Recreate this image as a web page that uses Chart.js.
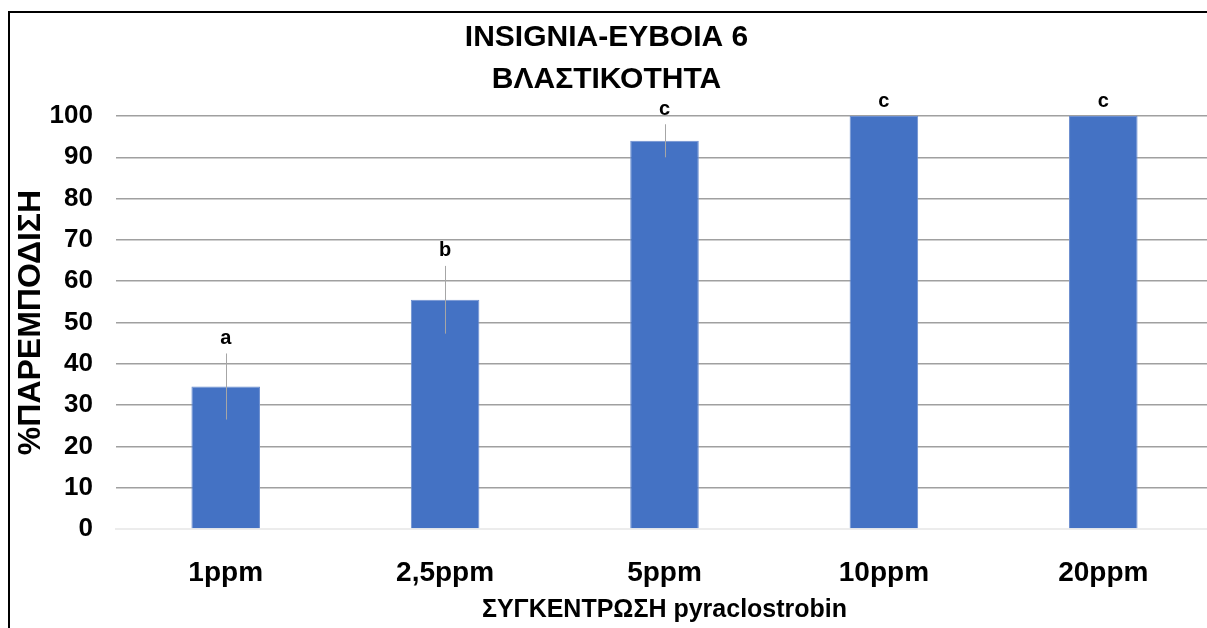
<!DOCTYPE html>
<html>
<head>
<meta charset="utf-8">
<script src="https://cdn.jsdelivr.net/npm/chart.js@4"></script>
<style>
  html, body { margin: 0; padding: 0; background: #fff; overflow: hidden; }
</style>
</head>
<body>
<canvas id="chart" width="1230" height="628"></canvas>
<script>
const labels = ['1ppm', '2,5ppm', '5ppm', '10ppm', '20ppm'];
const values = [34.5, 55.5, 94, 100, 100];
const errors = [8, 8.2, 4, 0, 0];
const letters = ['a', 'b', 'c', 'c', 'c'];
const yTicks = [0, 10, 20, 30, 40, 50, 60, 70, 80, 90, 100];

const font = "'Liberation Sans', Arial, sans-serif";

// white background + the thin frame around the chart
const frame = {
    id: 'frame',
    beforeDraw(chart) {
        const c = chart.ctx;
        c.save();
        c.fillStyle = '#fff';
        c.fillRect(0, 0, chart.width, chart.height);
        c.strokeStyle = '#000';
        c.lineWidth = 2;
        c.strokeRect(9, 12, chart.width + 50, chart.height + 50);
        c.restore();
    }
};

// error bars and the letters above them
const errBars = {
    id: 'errBars',
    afterDatasetsDraw(chart) {
        const c = chart.ctx;
        const x = chart.scales.x, y = chart.scales.y;
        c.save();
        for (let i = 0; i < values.length; i++) {
            const px = x.getPixelForValue(i);
            const top = y.getPixelForValue(values[i] + errors[i]);
            if (errors[i] > 0) {
                const bot = y.getPixelForValue(values[i] - errors[i]);
                c.strokeStyle = '#a6a6a6';
                c.lineWidth = 1;
                c.beginPath();
                c.moveTo(Math.round(px) + 0.5, top);
                c.lineTo(Math.round(px) + 0.5, bot);
                c.stroke();
            }
            c.fillStyle = '#000';
            c.font = 'bold 20px ' + font;
            c.textAlign = 'center';
            c.textBaseline = 'bottom';
            c.fillText(letters[i], px, top - 5);
        }
        c.restore();
    }
};

const ctx = document.getElementById('chart').getContext('2d');
const chart = new Chart(ctx, {
    type: 'bar',
    data: {
        labels: labels,
        datasets: [{
            data: values,
            backgroundColor: '#4472c4',
            borderColor: '#6d8fd0',
            borderWidth: 1,
            categoryPercentage: 1,
            barPercentage: 0.3125
        }]
    },
    options: {
        responsive: false,
        animation: false,
        layout: { padding: { left: 0, right: 17, top: 0, bottom: 0 } },
        plugins: {
            legend: { display: false },
            tooltip: { enabled: false },
            title: {
                display: true,
                text: ['INSIGNIA-ΕΥΒΟΙΑ 6', 'ΒΛΑΣΤΙΚΟΤΗΤΑ'],
                color: '#000',
                font: { family: font, size: 30, weight: 'bold', lineHeight: 1.4 },
                padding: { top: 17, bottom: 15 }
            }
        },
        scales: {
            x: {
                afterFit(scale) {
                    scale.height = 99;
                },
                grid: { display: false },
                border: { color: '#ececec', width: 2 },
                ticks: {
                    color: '#000',
                    padding: 19,
                    font: { family: font, size: 28, weight: 'bold' }
                },
                title: {
                    display: true,
                    text: 'ΣΥΓΚΕΝΤΡΩΣΗ pyraclostrobin',
                    color: '#000',
                    font: { family: font, size: 25, weight: 'bold', lineHeight: 1.2 },
                    padding: { top: 0, bottom: 3 }
                }
            },
            y: {
                min: 0,
                max: 100,
                afterBuildTicks(scale) {
                    scale.ticks = yTicks.map(v => ({ value: v }));
                },
                afterFit(scale) {
                    scale.width = 116;
                },
                grid: {
                    color: ctx => ctx.tick.value === 0 ? 'rgba(0,0,0,0)' : '#a0a0a0',
                    lineWidth: 1.5,
                    drawTicks: false
                },
                border: { display: false },
                ticks: {
                    color: '#000',
                    padding: 23,
                    font: { family: font, size: 26, weight: 'bold' }
                },
                title: {
                    display: true,
                    text: '%ΠΑΡΕΜΠΟΔΙΣΗ',
                    color: '#000',
                    font: { family: font, size: 32, weight: 'bold', lineHeight: 1.2 },
                    padding: { top: 12, bottom: 0 }
                }
            }
        }
    },
    plugins: [frame, errBars]
});
</script>
</body>
</html>
